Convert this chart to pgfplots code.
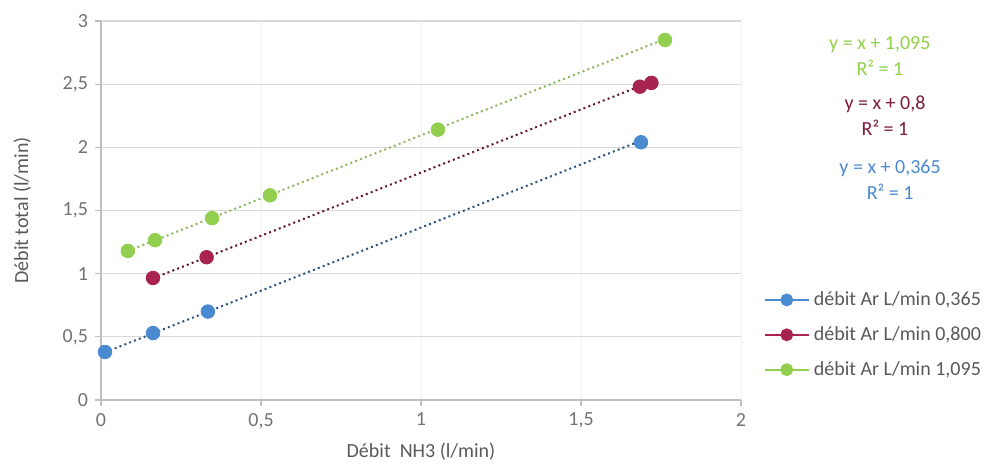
\documentclass[border=0pt]{standalone}
\usepackage{pgfplots}
\pgfplotsset{compat=1.18}
\usepackage{fontspec}
\setmainfont{Carlito}
\definecolor{cB}{HTML}{4A8AD0}
\definecolor{cR}{HTML}{A8234F}
\definecolor{cG}{HTML}{92CF4E}
\definecolor{txt}{HTML}{595959}
\definecolor{gridc}{HTML}{D9D9D9}
\definecolor{axc}{HTML}{BFBFBF}
\begin{document}
\begin{tikzpicture}
\path[use as bounding box] (-50.5pt,-33pt) rectangle (442.5pt,200pt);
\begin{axis}[
  at={(0,0)}, anchor=south west,
  scale only axis, width=320pt, height=189.5pt,
  xmin=0, xmax=2, ymin=0, ymax=3,
  xtick={0,0.5,1,1.5,2}, ytick={0,0.5,1,1.5,2,2.5,3},
  /pgf/number format/use comma,
  /pgf/number format/assume math mode=true,
  ymajorgrids, xmajorgrids,
  y grid style={gridc, line width=0.6pt},
  x grid style={gridc!35, line width=0.4pt},
  axis x line*=bottom, axis y line*=left,
  axis line style={axc, line width=0.6pt},
  tick align=outside, major tick length=3pt,
  tick style={axc, line width=0.6pt},
  ticklabel style={font=\fontsize{10}{12}\selectfont, text=txt!85},
  xlabel={Débit\ \ NH3 (l/min)}, ylabel={Débit total (l/min)},
  label style={font=\fontsize{10}{12}\selectfont, text=txt},
  xlabel style={at={(axis description cs:0.5,-0.137)}, anchor=center},
  ylabel style={at={(axis description cs:-0.123,0.5)}, anchor=center},
  legend style={at={(axis description cs:1.035,0.172)}, anchor=west, draw=none, fill=none,
    font=\fontsize{10}{12}\selectfont, text=txt, row sep=5pt, inner sep=0pt},
  legend cell align=left,
  legend image code/.code={
    \draw[#1, mark=none] (0pt,0pt)--(22pt,0pt);
    \draw[#1, draw=none] plot coordinates {(11pt,0pt)};
  },
  clip=false,
]
% trendlines
\addplot[forget plot, cB!60!black, line width=1pt, dash pattern=on 1pt off 1.6pt] coordinates {(0.0125,0.3775)(1.6875,2.0525)};
\addplot[forget plot, cR!60!black, line width=1pt, dash pattern=on 1pt off 1.6pt] coordinates {(0.1625,0.9625)(1.72,2.52)};
\addplot[forget plot, cG!70!gray, line width=1pt, dash pattern=on 1pt off 1.6pt] coordinates {(0.084,1.179)(1.7625,2.8575)};
% data
\addplot[only marks, mark=*, mark size=3.4pt, draw=cB, fill=cB, forget plot] coordinates {
(0.0125,0.38)(0.1625,0.53)(0.334,0.70)(1.6875,2.04)};
\addplot[only marks, mark=*, mark size=3.4pt, draw=cR, fill=cR, forget plot] coordinates {
(0.1625,0.966)(0.33,1.13)(1.684,2.48)(1.72,2.51)};
\addplot[only marks, mark=*, mark size=3.4pt, draw=cG, fill=cG, forget plot] coordinates {
(0.084,1.18)(0.169,1.265)(0.347,1.44)(0.528,1.62)(1.053,2.14)(1.7625,2.85)};
\addlegendimage{cB, line width=1pt, mark=*, mark size=2.7pt, mark options={fill=cB}}
\addlegendentry{débit Ar L/min 0,365}
\addlegendimage{cR, line width=1pt, mark=*, mark size=2.7pt, mark options={fill=cR}}
\addlegendentry{débit Ar L/min 0,800}
\addlegendimage{cG, line width=1pt, mark=*, mark size=2.7pt, mark options={fill=cG}}
\addlegendentry{débit Ar L/min 1,095}
\node[text=cG, font=\fontsize{10}{12}\selectfont] at (axis description cs:1.217,0.937) {y = x + 1,095};
\node[text=cG, font=\fontsize{10}{12}\selectfont] at (axis description cs:1.217,0.876) {R² = 1};
\node[text=cR!75!black, font=\fontsize{10}{12}\selectfont] at (axis description cs:1.225,0.781) {y = x + 0,8};
\node[text=cR!75!black, font=\fontsize{10}{12}\selectfont] at (axis description cs:1.225,0.718) {R² = 1};
\node[text=cB, font=\fontsize{10}{12}\selectfont] at (axis description cs:1.233,0.612) {y = x + 0,365};
\node[text=cB, font=\fontsize{10}{12}\selectfont] at (axis description cs:1.233,0.549) {R² = 1};
\end{axis}
\end{tikzpicture}
\end{document}
